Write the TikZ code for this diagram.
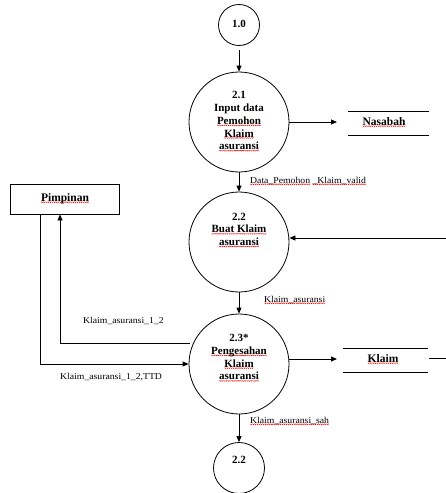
\documentclass[tikz,border=0pt]{standalone}
\usepackage{fontspec}
\setmainfont{Liberation Serif}
\newfontfamily\lblfont[FakeStretch=1.08]{Liberation Serif}
\usetikzlibrary{arrows.meta}
\newsavebox\rwbox
\newcommand\rw[1]{\sbox\rwbox{#1}\rlap{\lower1.6pt\hbox to\wd\rwbox{\xleaders\hbox{\tikz[x=1pt,y=1pt]\draw[red,line width=0.45pt,line cap=round] (0,0)--(0.8,-0.8)--(1.6,0);}\hfil}}\usebox\rwbox}
\begin{document}
\begin{tikzpicture}[x=1pt,y=-1pt,
  proc/.style={circle,draw,line width=0.8pt,inner sep=0pt},
  ptext/.style={inner sep=0pt,font=\bfseries\fontsize{11}{12.7}\selectfont,align=center},
  flow/.style={line width=0.8pt,-{Triangle[length=6pt,width=5pt]}},
  plain/.style={line width=0.8pt},
  lbl/.style={font=\lblfont\fontsize{9}{10}\selectfont,inner sep=0pt},
  storetxt/.style={font=\bfseries\fontsize{11.5}{13}\selectfont,inner sep=0pt},
  ent/.style={draw,line width=0.8pt,minimum width=109pt,minimum height=30pt,inner sep=0pt}]
\useasboundingbox (0,0) rectangle (446,493);
% processes
\node[proc,minimum size=41pt] (p10) at (239,25) {};
\node[ptext] (t10) at (239,24) {1.0};
\node[proc,minimum size=100pt] (p21) at (239,122) {};
\node[ptext] (t21) at (239,121.5) {2.1\\Input data\\\rw{Pemohon}\\\rw{Klaim}\\\rw{asuransi}};
\node[proc,minimum size=100pt] (p22) at (239,242) {};
\node[ptext] (t22) at (239,230) {2.2\\\rw{Buat Klaim}\\\rw{asuransi}};
\node[proc,minimum size=100pt] (p23) at (239,364) {};
\node[ptext] (t23) at (239,358) {2.3*\\\rw{Pengesahan}\\\rw{Klaim}\\\rw{asuransi}};
\node[proc,minimum size=51pt] (p22b) at (239,468) {};
\node[ptext] (t22b) at (239,460) {2.2};
% entity
\node[ent] (pim) at (64.5,199) {};
\node[storetxt] (tpim) at (65,198.5) {\rw{Pimpinan}};
% stores
\node[storetxt] (nas) at (384,122) {\rw{Nasabah}};
\coordinate (nasTL) at (348,111); \coordinate (nasTR) at (429,111);
\coordinate (nasBL) at (348,135); \coordinate (nasBR) at (429,135);
\draw[plain] (nasTL) -- (nasTR) (nasBL) -- (nasBR);
\node[storetxt] (kla) at (383,359) {\rw{Klaim}};
\coordinate (klaTL) at (343,348); \coordinate (klaTR) at (428,348);
\coordinate (klaBL) at (343,372); \coordinate (klaBR) at (428,372);
\draw[plain] (klaTL) -- (klaTR) (klaBL) -- (klaBR);
\coordinate (klaOut) at (429,358); \coordinate (klaEnd) at (446,358);
\draw[plain] (klaOut) -- (klaEnd);
% flows
\coordinate (a1) at (239,50);
\draw[flow] (a1) -- (p21.north);
\coordinate (nasIn) at (337,122);
\draw[flow] (p21.east) -- (nasIn);
\draw[flow] (p21.south) -- (p22.north);
\node[lbl,anchor=west] (l1) at (250,181) {\rw{Data\_Pemohon} \rw{\_Klaim\_valid}};
\coordinate (rightIn) at (446,238);
\draw[flow] (rightIn) -- (p22.east |- rightIn);
\draw[flow] (p22.south) -- (p23.north);
\node[lbl,anchor=west] (l2) at (264,300) {\rw{Klaim\_asuransi}};
\coordinate (klaIn) at (337,359);
\draw[flow] (p23.east |- klaIn) -- (klaIn);
\draw[flow] (p23.south) -- (p22b.north);
\node[lbl,anchor=west] (l3) at (250,421) {\rw{Klaim\_asuransi\_sah}};
% Pimpinan loops
\coordinate (c1) at (40,364);
\draw[flow] (pim.south -| c1) -- (c1) -- (p23.west);
\node[lbl,anchor=west] (l4) at (60,377) {Klaim\_asuransi\_1\_2,TTD};
\coordinate (c2) at (60,343);
\coordinate (c3) at (190,343);
\draw[flow] (c3) -- (c2) -- (pim.south -| c2);
\node[lbl,anchor=west] (l5) at (83,321) {Klaim\_asuransi\_1\_2};
\end{tikzpicture}
\end{document}
